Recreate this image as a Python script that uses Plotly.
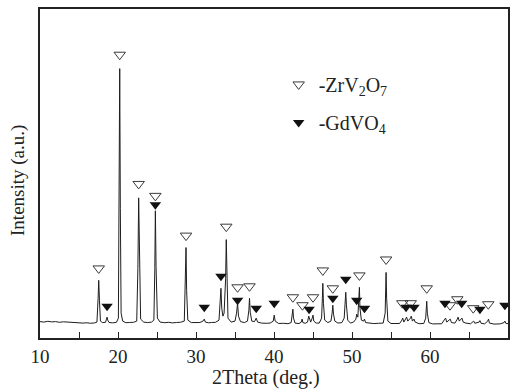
import plotly.graph_objects as go

# XRD profile: 2Theta (deg.) and intensity (a.u.)
two_theta = [
    10.0, 10.5, 11.0, 11.5, 12.0, 12.5, 13.0, 13.5, 14.0, 14.5, 15.0, 15.5, 16.0, 16.5, 17.0,
    17.3, 17.45, 17.53, 17.62, 17.75, 18.0, 18.4, 18.52, 18.6, 18.68, 18.85, 19.3, 19.8,
    20.05, 20.14, 20.22, 20.3, 20.4, 20.6, 21.0, 21.5, 22.0, 22.4, 22.55, 22.65, 22.74, 22.9,
    23.3, 23.8, 24.3, 24.6, 24.72, 24.79, 24.88, 25.05, 25.4, 26.0, 26.5, 27.0, 27.5, 28.0,
    28.5, 28.64, 28.72, 28.8, 28.95, 29.4, 30.0, 30.5, 30.9, 31.06, 31.2, 31.6, 32.0, 32.5,
    32.95, 33.12, 33.2, 33.3, 33.45, 33.6, 33.8, 33.88, 33.96, 34.1, 34.5, 35.0, 35.2, 35.33,
    35.45, 35.7, 36.2, 36.6, 36.78, 36.86, 36.95, 37.15, 37.5, 37.72, 37.9, 38.4, 39.0, 39.5,
    39.9, 40.03, 40.15, 40.6, 41.2, 41.8, 42.2, 42.34, 42.42, 42.5, 42.7, 43.2, 43.5, 43.6,
    43.7, 44.0, 44.3, 44.45, 44.55, 44.7, 44.9, 45.0, 45.1, 45.4, 45.8, 46.1, 46.2, 46.26,
    46.34, 46.5, 46.9, 47.3, 47.45, 47.54, 47.63, 47.8, 48.2, 48.7, 49.0, 49.12, 49.2, 49.28,
    49.45, 49.8, 50.2, 50.5, 50.6, 50.75, 50.88, 50.95, 51.02, 51.2, 51.5, 51.6, 51.75, 52.2,
    52.8, 53.4, 54.0, 54.25, 54.32, 54.37, 54.44, 54.6, 55.0, 55.6, 56.1, 56.4, 56.5, 56.65,
    56.9, 57.0, 57.15, 57.5, 57.6, 57.75, 57.95, 58.1, 58.6, 59.2, 59.45, 59.52, 59.58, 59.66,
    59.85, 60.3, 61.0, 61.5, 61.9, 62.0, 62.15, 62.5, 62.6, 62.75, 63.2, 63.5, 63.6, 63.75,
    64.0, 64.1, 64.25, 64.6, 65.2, 65.5, 65.6, 65.75, 66.3, 66.4, 66.55, 67.0, 67.4, 67.5,
    67.62, 68.2, 69.0, 69.5, 69.6, 69.75, 70.0,
]
intensity = [
    16.5, 16.0, 16.8, 16.2, 16.5, 15.8, 16.3, 15.9, 16.2, 15.6, 15.4, 15.0, 15.3, 14.8, 15.2,
    16.0, 40.0, 58.0, 38.0, 17.0, 15.5, 15.8, 19.0, 21.0, 18.0, 15.6, 15.2, 15.8,
    20.0, 120.0, 271.0, 130.0, 25.0, 17.0, 15.4, 15.6, 15.8, 17.0, 70.0, 141.0, 75.0, 19.0,
    16.0, 15.5, 16.0, 18.0, 70.0, 128.0, 72.0, 20.0, 16.0, 15.4, 15.8, 15.2, 15.6, 15.8,
    17.0, 50.0, 91.0, 48.0, 18.0, 15.5, 15.2, 15.6, 17.0, 19.0, 16.0, 15.3, 15.6, 15.8,
    18.0, 35.0, 50.0, 30.0, 22.0, 25.0, 60.0, 99.0, 55.0, 20.0, 16.0, 17.0, 25.0, 35.0,
    22.0, 16.5, 15.5, 17.0, 28.0, 40.0, 26.0, 17.0, 16.5, 20.0, 16.0, 15.0, 14.8, 15.0,
    17.0, 23.0, 17.0, 14.6, 14.8, 14.4, 15.5, 22.0, 29.0, 20.0, 15.0, 14.5, 16.0, 19.0,
    15.5, 14.8, 16.0, 22.0, 19.0, 16.0, 20.0, 23.0, 17.0, 15.0, 15.0, 20.0, 40.0, 55.0,
    35.0, 18.0, 15.5, 17.0, 25.0, 33.0, 24.0, 17.0, 15.0, 15.5, 20.0, 35.0, 46.0, 34.0,
    18.0, 15.0, 16.0, 19.0, 24.0, 21.0, 35.0, 51.0, 30.0, 18.0, 17.0, 19.0, 15.5, 14.8,
    14.5, 14.8, 15.0, 25.0, 50.0, 66.0, 40.0, 17.0, 14.6, 14.2, 14.6, 18.0, 20.0, 16.0,
    19.0, 21.0, 17.0, 20.0, 22.0, 17.0, 19.0, 16.0, 14.4, 14.6, 20.0, 30.0, 37.0, 25.0,
    15.5, 14.2, 14.0, 14.3, 19.0, 20.0, 16.0, 18.0, 19.0, 15.5, 15.0, 19.0, 21.0, 17.0,
    19.0, 20.0, 16.0, 15.0, 14.3, 16.0, 17.0, 14.8, 16.0, 17.5, 14.8, 14.2, 17.0, 19.0,
    15.0, 14.0, 14.2, 15.5, 17.0, 14.5, 14.5,
]

# Phase markers (peak assignments)
zrv2o7_x = [17.53, 20.22, 22.65, 24.79, 28.72, 33.88, 35.33, 36.86, 42.42, 43.65, 45.0,
            46.26, 47.54, 50.95, 54.37, 56.45, 57.53, 59.58, 62.56, 63.5, 65.54, 67.47]
zrv2o7_y = [70, 285, 155, 143, 103, 112, 51, 52, 41, 33, 41,
            68, 50, 63, 79, 35, 35, 50, 33, 39, 30, 34]
gdvo4_x = [18.6, 24.79, 31.06, 33.2, 35.33, 37.72, 40.03, 44.5, 47.54, 49.2, 50.6,
           51.6, 56.93, 57.95, 61.92, 64.06, 66.4, 69.6]
gdvo4_y = [32, 134, 31, 62, 38, 30, 35, 29, 40, 59, 38,
           30, 31, 31, 35, 35, 29, 33]

x_ticks = [10, 20, 30, 40, 50, 60, 70]

FONT = "Liberation Serif"
W, H = 517, 392
L, R, T, B = 40, 9, 7, 54

fig = go.Figure()
fig.add_trace(go.Scatter(
    x=two_theta, y=intensity, mode="lines",
    line=dict(color="#1e1e1e", width=1), showlegend=False, hoverinfo="skip",
))
fig.add_trace(go.Scatter(
    x=zrv2o7_x, y=zrv2o7_y, mode="markers", name="-ZrV<sub>2</sub>O<sub>7</sub>",
    legendgroup="a",
    marker=dict(symbol="triangle-down-open", size=10, color="#3a3a3a", line=dict(width=1)),
))
fig.add_trace(go.Scatter(
    x=gdvo4_x, y=gdvo4_y, mode="markers", name="-GdVO<sub>4</sub>",
    legendgroup="b",
    marker=dict(symbol="triangle-down", size=10, color="#111111"),
))

fig.update_layout(
    width=W, height=H,
    margin=dict(l=L, r=R, t=T, b=B),
    paper_bgcolor="white", plot_bgcolor="white",
    font=dict(family=FONT, color="#222", size=16),
    legend=dict(
        x=0.51, y=0.83, xanchor="left", yanchor="top",
        bgcolor="rgba(0,0,0,0)", font=dict(family=FONT, size=20, color="#222"),
        tracegroupgap=9, itemwidth=30,
    ),
    xaxis=dict(
        range=[10, 70], tickvals=x_ticks, ticks="inside", ticklen=6, tickwidth=1,
        tickcolor="#222", showline=True, linecolor="#222", linewidth=1.5, mirror=True,
        showgrid=False, zeroline=False, tickfont=dict(family=FONT, size=19, color="#222"),
        minor=dict(dtick=5, ticks="inside", ticklen=6, tickwidth=1, tickcolor="#222", showgrid=False),
    ),
    yaxis=dict(
        range=[0, 331], showticklabels=False, ticks="", showline=True, linecolor="#222",
        linewidth=1.5, mirror=True, showgrid=False, zeroline=False,
    ),
    annotations=[
        dict(text="2Theta (deg.)", xref="paper", yref="paper",
             x=(266 - L) / (W - L - R), y=-(378 - (H - B)) / (H - T - B),
             xanchor="center", yanchor="middle", showarrow=False,
             font=dict(family=FONT, size=20, color="#222")),
        dict(text="Intensity (a.u.)", xref="paper", yref="paper",
             x=-(L - 18) / (W - L - R), y=1 - (180 - T) / (H - T - B),
             xanchor="center", yanchor="middle", showarrow=False, textangle=-90,
             font=dict(family=FONT, size=19, color="#222")),
    ],
)

fig.write_html("out.html")
